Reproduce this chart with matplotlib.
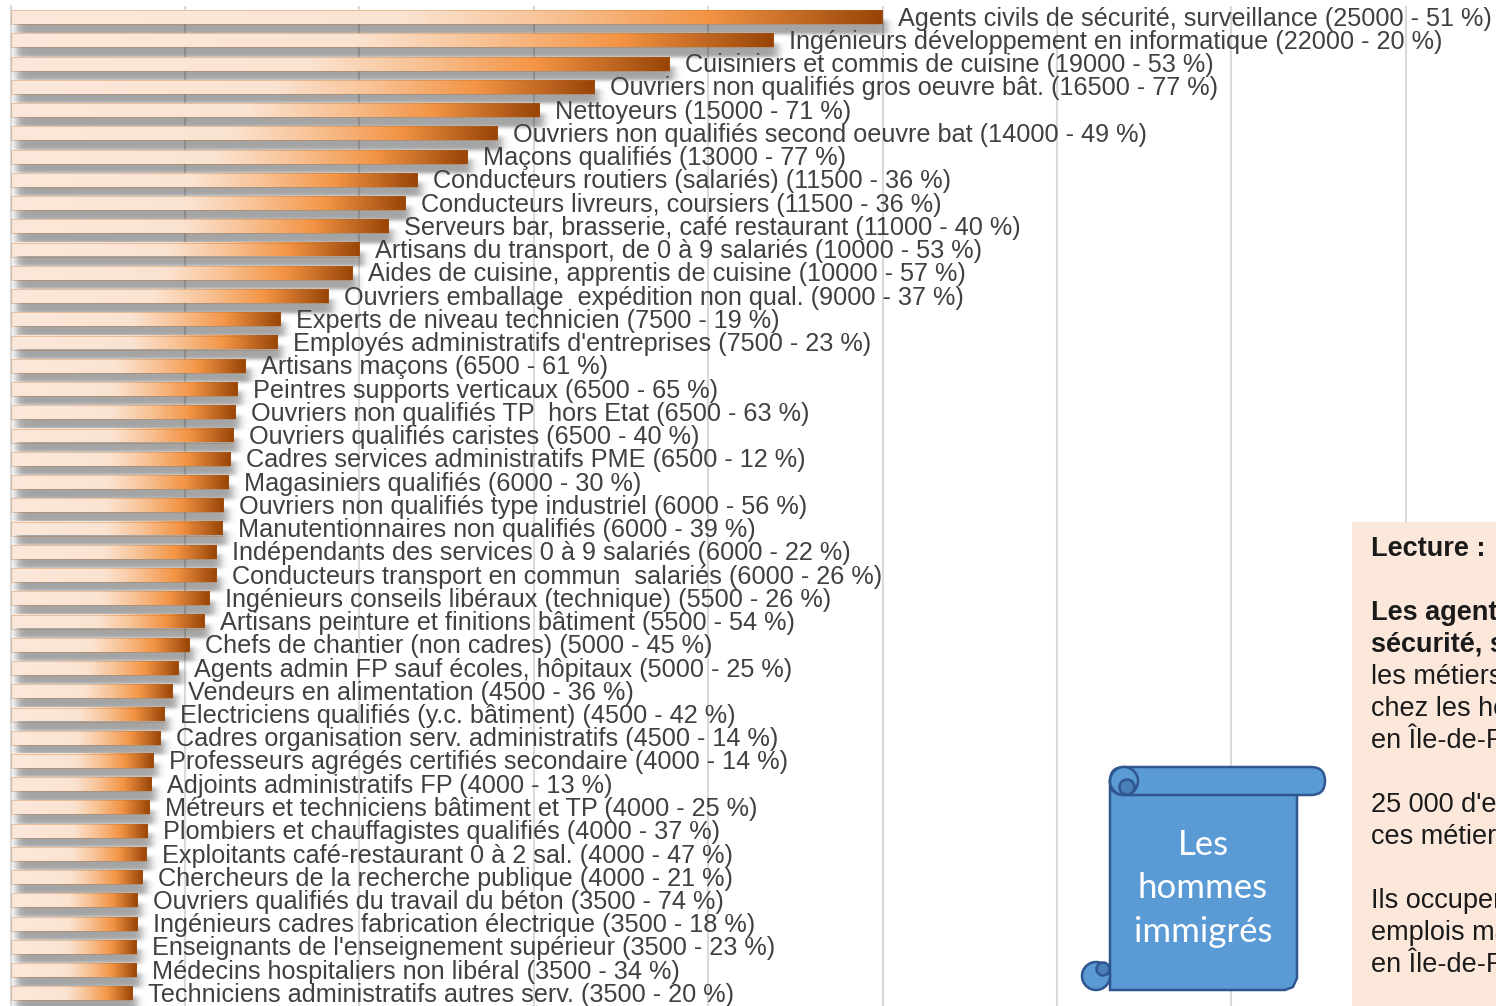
import numpy as np
import matplotlib.pyplot as plt
from matplotlib.colors import LinearSegmentedColormap
from matplotlib.patches import FancyBboxPatch, Circle, Rectangle, Polygon

# ---------------------------------------------------------------
# Données : métiers les plus fréquents chez les hommes immigrés
# (effectif, part des immigrés dans le métier en %)
# ---------------------------------------------------------------
metiers = [
    "Agents civils de sécurité, surveillance",
    "Ingénieurs développement en informatique",
    "Cuisiniers et commis de cuisine",
    "Ouvriers non qualifiés gros oeuvre bât.",
    "Nettoyeurs",
    "Ouvriers non qualifiés second oeuvre bat",
    "Maçons qualifiés",
    "Conducteurs routiers (salariés)",
    "Conducteurs livreurs, coursiers",
    "Serveurs bar, brasserie, café restaurant",
    "Artisans du transport, de 0 à 9 salariés",
    "Aides de cuisine, apprentis de cuisine",
    "Ouvriers emballage  expédition non qual.",
    "Experts de niveau technicien",
    "Employés administratifs d'entreprises",
    "Artisans maçons",
    "Peintres supports verticaux",
    "Ouvriers non qualifiés TP  hors Etat",
    "Ouvriers qualifiés caristes",
    "Cadres services administratifs PME",
    "Magasiniers qualifiés",
    "Ouvriers non qualifiés type industriel",
    "Manutentionnaires non qualifiés",
    "Indépendants des services 0 à 9 salariés",
    "Conducteurs transport en commun  salariés",
    "Ingénieurs conseils libéraux (technique)",
    "Artisans peinture et finitions bâtiment",
    "Chefs de chantier (non cadres)",
    "Agents admin FP sauf écoles, hôpitaux",
    "Vendeurs en alimentation",
    "Electriciens qualifiés (y.c. bâtiment)",
    "Cadres organisation serv. administratifs",
    "Professeurs agrégés certifiés secondaire",
    "Adjoints administratifs FP",
    "Métreurs et techniciens bâtiment et TP",
    "Plombiers et chauffagistes qualifiés",
    "Exploitants café-restaurant 0 à 2 sal.",
    "Chercheurs de la recherche publique",
    "Ouvriers qualifiés du travail du béton",
    "Ingénieurs cadres fabrication électrique",
    "Enseignants de l'enseignement supérieur",
    "Médecins hospitaliers non libéral",
    "Techniciens administratifs autres serv.",
]
effectifs = [24990, 21860, 18880, 16730, 15150, 13950, 13080, 11650, 11310,
             10820, 9990, 9790, 9100, 7720, 7640, 6720, 6490, 6430, 6380,
             6290, 6230, 6090, 6060, 5890, 5890, 5700, 5550, 5110, 4800,
             4630, 4400, 4280, 4080, 4030, 3970, 3910, 3880, 3770, 3620,
             3620, 3590, 3590, 3480]
part_pct = [51, 20, 53, 77, 71, 49, 77, 36, 36, 40, 53, 57, 37, 19, 23, 61,
            65, 63, 40, 12, 30, 56, 39, 22, 26, 26, 54, 45, 25, 36, 42, 14,
            14, 13, 25, 37, 47, 21, 74, 18, 23, 34, 20]

lecture = [
    ("Lecture :", "bold"),
    ("", "normal"),
    ("Les agents civils de", "bold"),
    ("sécurité, surveillance", "bold"),
    ("les métiers les plus fréquents", "normal"),
    ("chez les hommes immigrés", "normal"),
    ("en Île-de-France.", "normal"),
    ("", "normal"),
    ("25 000 d'entre eux exercent", "normal"),
    ("ces métiers.", "normal"),
    ("", "normal"),
    ("Ils occupent 51 % des", "normal"),
    ("emplois masculins de ces métiers", "normal"),
    ("en Île-de-France.", "normal"),
]

# ---------------------------------------------------------------
# géométrie (pixels)
# ---------------------------------------------------------------
W, H = 1496, 1006
X0 = 10.6                 # origine de l'axe des effectifs
PXU = 174.4 / 5000        # pixels par emploi
ROW0, ROW = 17.0, 23.25   # centre de la 1re barre, pas entre barres
TOP = 6.0
BAR_H = 14 / ROW

def px_x(p):
    return p / PXU

def px_y(p):
    return p / ROW

bar_cmap = LinearSegmentedColormap.from_list(
    "orange", [(0.0, "#FCE8DA"), (0.45, "#FBE3D1"), (0.62, "#F8C295"),
               (0.80, "#F39445"), (1.0, "#994507")])

fig = plt.figure(figsize=(W / 100, H / 100), dpi=100)
ax = fig.add_axes([X0 / W, 0, 1 - X0 / W, (H - TOP) / H])

y = np.arange(len(effectifs))
bars = ax.barh(y, effectifs, height=BAR_H, color="none",
               edgecolor=(0.72, 0.40, 0.12, 0.35), linewidth=0.6, zorder=3)

# ombres portées floues
OX, OY, BLUR, A = 5.0, 10.0, 2.0, 0.36
for b in bars:
    yc = b.get_y() + b.get_height() / 2
    w = b.get_width()
    x0, x1 = OX, w * PXU + OX
    y0, y1 = -7 + OY, 7 + OY
    xs = np.arange(x0 - 12, x1 + 12, 1.0)
    ys = np.arange(y0 - 8, y1 + 8, 0.5)
    fx = 0.5 * (np.tanh((xs - x0) / (2.5 * BLUR)) - np.tanh((xs - x1) / (2.5 * BLUR)))
    fy = 0.5 * (np.tanh((ys - y0) / BLUR) - np.tanh((ys - y1) / BLUR))
    img = np.zeros((len(ys), len(xs), 4))
    img[..., 3] = A * fy[:, None] * fx[None, :]
    ax.imshow(img, extent=(px_x(xs[0]), px_x(xs[-1]),
                           yc + px_y(ys[-1]), yc + px_y(ys[0])),
              origin="upper", aspect="auto", interpolation="bilinear",
              zorder=1)

# barres en dégradé
grad = np.linspace(0, 1, 400)[None, :]
for b in bars:
    x, yb, w, h = b.get_x(), b.get_y(), b.get_width(), b.get_height()
    ax.imshow(grad, cmap=bar_cmap, extent=(x, x + w, yb + h, yb),
              aspect="auto", interpolation="bilinear", zorder=2)

# étiquettes
for b, nom, v, p in zip(bars, metiers, effectifs, part_pct):
    yc = b.get_y() + b.get_height() / 2
    arrondi = int(round(v / 500) * 500)
    ax.text(v + px_x(16), yc + px_y(8.5), f"{nom} ({arrondi} - {p} %)",
            ha="left", va="baseline", fontsize=18.2, color="#404040",
            family="Liberation Sans", zorder=4)

ax.set_xticks(np.arange(5000, 45000, 5000))
ax.grid(axis="x", color="#D9D9D9", linewidth=1.5, zorder=0.5)
ax.set_axisbelow(True)
ax.tick_params(length=0, labelbottom=False, labelleft=False)
ax.set_yticks([])
for s in ("top", "right", "bottom"):
    ax.spines[s].set_visible(False)
ax.spines["left"].set_color("#D9D9D9")
ax.spines["left"].set_linewidth(1.5)
ax.set_xlim(0, (W - X0) / PXU)
ax.set_ylim((H - ROW0) / ROW, (TOP - ROW0) / ROW)

# ---------------------------------------------------------------
# encadré de lecture et parchemin
# ---------------------------------------------------------------
ov = fig.add_axes([0, 0, 1, 1], zorder=5)
ov.set_xlim(0, W)
ov.set_ylim(H, 0)
ov.axis("off")

ov.add_patch(Rectangle((1352, 522), 300, 600, facecolor="#FBE8DB",
                       edgecolor="none"))
for k, (ligne, poids) in enumerate(lecture):
    if ligne:
        ov.text(1371, 549 + 32 * k, ligne, ha="left", va="center",
                fontsize=19.5, fontweight=poids, color="#1A1A1A",
                family="Liberation Sans")

bleu, bleu_f, trait = "#5B9BD5", "#4A80B8", "#2F5690"
lw = 1.8
ov.add_patch(Polygon([(1110, 781), (1110, 990), (1285, 990), (1293, 987),
                      (1297, 978), (1297, 781)], closed=True,
                     facecolor=bleu, edgecolor=trait, linewidth=lw))
ov.add_patch(Circle((1096, 976), 14, facecolor=bleu, edgecolor=trait,
                    linewidth=lw))
ov.add_patch(Circle((1103, 969), 6.5, facecolor=bleu_f, edgecolor=trait,
                    linewidth=lw))
ov.add_patch(FancyBboxPatch((1110, 767), 215, 28,
                            boxstyle="round,pad=0,rounding_size=14",
                            facecolor=bleu, edgecolor=trait, linewidth=lw))
ov.add_patch(Circle((1124, 781), 14, facecolor=bleu, edgecolor=trait,
                    linewidth=lw))
ov.add_patch(Circle((1127, 787), 7.5, facecolor=bleu_f, edgecolor=trait,
                    linewidth=lw))
for k, mot in enumerate(["Les", "hommes", "immigrés"]):
    ov.text(1203, 845 + 43.5 * k, mot, ha="center", va="center",
            fontsize=25, color="white", family="Lato")

fig.savefig("out.png", dpi=100)
